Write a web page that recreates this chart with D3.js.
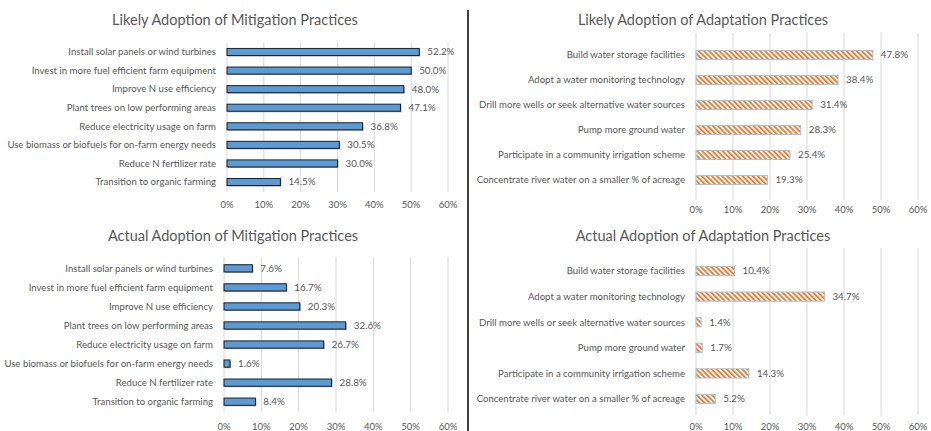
<!DOCTYPE html>
<html>
<head>
<meta charset="utf-8">
<script src="https://cdn.jsdelivr.net/npm/d3@7"></script>
<style>
  body { margin: 0; background: #fff; }
  text { font-family: "Lato", "Open Sans", sans-serif; fill: #595959; }
</style>
</head>
<body>
<div id="chartContainer"></div>
<script>
// categories and values
var mitigationPractices = ["Install solar panels or wind turbines", "Invest in more fuel efficient farm equipment",
  "Improve N use efficiency", "Plant trees on low performing areas", "Reduce electricity usage on farm",
  "Use biomass or biofuels for on-farm energy needs", "Reduce N fertilizer rate", "Transition to organic farming"];
var mitigationLikely = [52.2, 50.0, 48.0, 47.1, 36.8, 30.5, 30.0, 14.5];
var mitigationActual = [7.6, 16.7, 20.3, 32.6, 26.7, 1.6, 28.8, 8.4];

var adaptationPractices = ["Build water storage facilities", "Adopt a water monitoring technology",
  "Drill more wells or seek alternative water sources", "Pump more ground water",
  "Participate in a community irrigation scheme", "Concentrate river water on a smaller % of acreage"];
var adaptationLikely = [47.8, 38.4, 31.4, 28.3, 25.4, 19.3];
var adaptationActual = [10.4, 34.7, 1.4, 1.7, 14.3, 5.2];

var tickValues = [0, 10, 20, 30, 40, 50, 60];

var svg = d3.select("#chartContainer").append("svg")
  .attr("width", 931).attr("height", 431);

// hatch pattern for adaptation bars
var defs = svg.append("defs");
var pat = defs.append("pattern")
  .attr("id", "hatch")
  .attr("patternUnits", "userSpaceOnUse")
  .attr("width", 3.6).attr("height", 3.6)
  .attr("patternTransform", "rotate(-45)");
pat.append("rect").attr("width", 3.6).attr("height", 3.6).attr("fill", "#fff");
pat.append("rect").attr("width", 1.9).attr("height", 3.6).attr("fill", "#ed7d31");

// panel layout
var panels = [
  {title: "Likely Adoption of Mitigation Practices", cats: mitigationPractices, vals: mitigationLikely,
   x0: 227, x1: 448, y0: 42.7, y1: 191.3, g0: 43, g1: 192, pad: 0.62, tickY: 208, titleX: 235, titleY: 25, labelX: 216, kind: "solid"},
  {title: "Actual Adoption of Mitigation Practices", cats: mitigationPractices, vals: mitigationActual,
   x0: 224, x1: 448, y0: 258.8, y1: 411.2, g0: 257, g1: 412, pad: 0.62, tickY: 430, titleX: 233, titleY: 241, labelX: 213, kind: "solid"},
  {title: "Likely Adoption of Adaptation Practices", cats: adaptationPractices, vals: adaptationLikely,
   x0: 696, x1: 918, y0: 42.5, y1: 192.5, g0: 33, g1: 200, pad: 0.64, tickY: 213, titleX: 703, titleY: 25, labelX: 685, kind: "hatch"},
  {title: "Actual Adoption of Adaptation Practices", cats: adaptationPractices, vals: adaptationActual,
   x0: 696, x1: 918, y0: 258.2, y1: 411.8, g0: 248, g1: 415, pad: 0.64, tickY: 430, titleX: 703, titleY: 241, labelX: 685, kind: "hatch"}
];

panels.forEach(function(p) {
  var g = svg.append("g");
  var x = d3.scaleLinear().domain([0, 60]).range([p.x0, p.x1]);
  var y = d3.scaleBand().domain(p.cats).range([p.y0, p.y1])
    .paddingInner(p.pad).paddingOuter(p.pad / 2);

  g.append("text")
    .attr("x", p.titleX).attr("y", p.titleY)
    .attr("text-anchor", "middle")
    .style("font-size", "14.5px")
    .text(p.title);

  // gridlines
  g.selectAll(".grid").data(tickValues).enter().append("line")
    .attr("x1", function(d) { return x(d); }).attr("x2", function(d) { return x(d); })
    .attr("y1", p.g0).attr("y2", p.g1)
    .attr("stroke", "#d9d9d9").attr("stroke-width", 1);

  // x tick labels
  g.selectAll(".tick").data(tickValues).enter().append("text")
    .attr("x", function(d) { return x(d); }).attr("y", p.tickY)
    .attr("text-anchor", "middle")
    .style("font-size", "9.5px")
    .text(function(d) { return d + "%"; });

  // category labels
  g.selectAll(".cat").data(p.cats).enter().append("text")
    .attr("x", p.labelX).attr("y", function(d) { return y(d) + y.bandwidth() / 2; })
    .attr("dy", "0.35em")
    .attr("text-anchor", "end")
    .style("font-size", "9.6px")
    .text(function(d) { return d; });

  var rows = p.cats.map(function(c, i) { return {cat: c, val: p.vals[i]}; });

  if (p.kind === "solid") {
    // gray shadow under bars
    g.selectAll(".shadow").data(rows).enter().append("rect")
      .attr("x", x(0) + 1).attr("y", function(d) { return y(d.cat) + 1; })
      .attr("width", function(d) { return x(d.val) - x(0); })
      .attr("height", y.bandwidth())
      .attr("fill", "#a6a6a6");
    g.selectAll(".bar").data(rows).enter().append("rect")
      .attr("x", x(0)).attr("y", function(d) { return y(d.cat); })
      .attr("width", function(d) { return x(d.val) - x(0); })
      .attr("height", y.bandwidth())
      .attr("fill", "#5b9bd5").attr("stroke", "#1f1f1f").attr("stroke-width", 1);
  } else {
    g.selectAll(".bar").data(rows).enter().append("rect")
      .attr("x", x(0)).attr("y", function(d) { return y(d.cat); })
      .attr("width", function(d) { return x(d.val) - x(0); })
      .attr("height", y.bandwidth())
      .attr("fill", "url(#hatch)").attr("stroke", "#9dc3e6").attr("stroke-width", 1);
  }

  // value labels
  g.selectAll(".val").data(rows).enter().append("text")
    .attr("x", function(d) { return x(d.val) + 8; })
    .attr("y", function(d) { return y(d.cat) + y.bandwidth() / 2; })
    .attr("dy", "0.35em")
    .style("font-size", "9.8px")
    .text(function(d) { return d.val.toFixed(1) + "%"; });
});

// divider between the two columns
svg.append("line")
  .attr("x1", 468).attr("x2", 468).attr("y1", 10).attr("y2", 431)
  .attr("stroke", "#000").attr("stroke-width", 1.5);
</script>
</body>
</html>
